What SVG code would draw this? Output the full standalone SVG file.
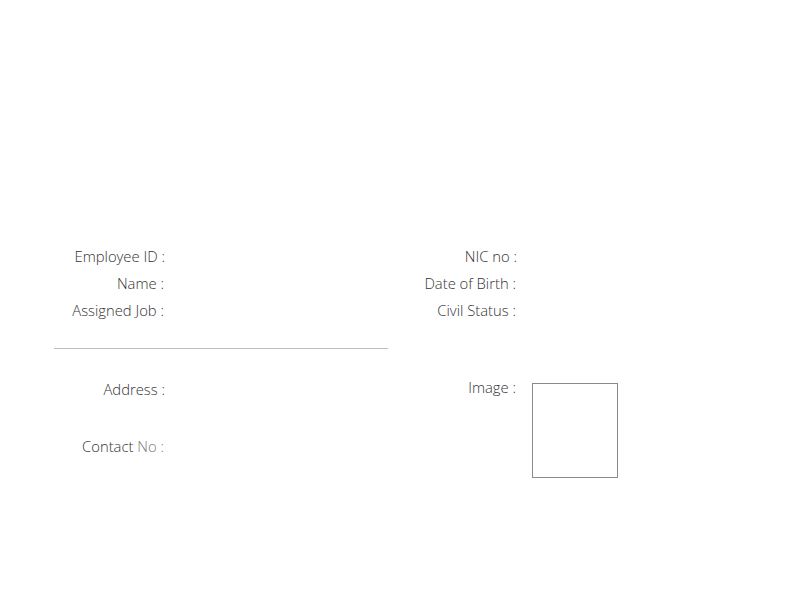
<svg xmlns="http://www.w3.org/2000/svg" width="790" height="590" viewBox="0 0 790 590">
<style>
.lbl{font-family:"Open Sans","Noto Sans","Liberation Sans",sans-serif;font-size:14.8px;font-weight:300;fill:#333333;text-anchor:end}
.dim{fill:#7a7a7a}
</style>
<rect x="0" y="0" width="790" height="590" fill="#ffffff"/>
<g id="left-fields">
<text class="lbl" x="165" y="262">Employee ID :</text>
<text class="lbl" x="164" y="289">Name :</text>
<text class="lbl" x="164" y="316">Assigned Job :</text>
</g>
<g id="right-fields">
<text class="lbl" x="517" y="262">NIC no :</text>
<text class="lbl" x="516" y="289">Date of Birth :</text>
<text class="lbl" x="516" y="316">Civil Status :</text>
</g>
<line x1="54" y1="348.5" x2="388" y2="348.5" stroke="#bdbdbd" stroke-width="1"/>
<g id="address">
<text class="lbl" x="165" y="395">Address :</text>
</g>
<g id="contact">
<text class="lbl" x="164" y="452">Contact <tspan class="dim">No :</tspan></text>
</g>
<g id="image">
<text class="lbl" x="516" y="393">Image :</text>
<rect x="532.5" y="383.5" width="85" height="94" fill="none" stroke="#8a8a8a" stroke-width="1"/>
</g>
</svg>
